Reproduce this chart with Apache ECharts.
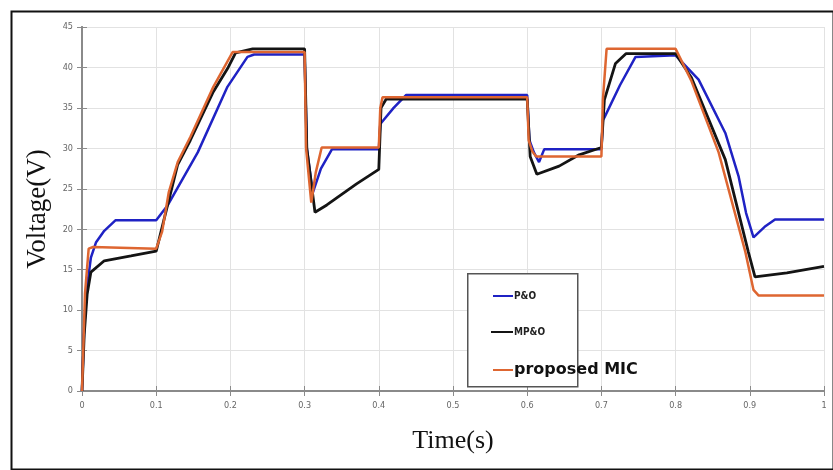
<!DOCTYPE html>
<html>
<head>
<meta charset="utf-8">
<script src="https://cdn.jsdelivr.net/npm/echarts@6/dist/echarts.min.js"></script>
<style>
  html, body { margin: 0; padding: 0; background: #fff; }
  #chart { width: 833px; height: 470px; }
</style>
</head>
<body>
<div id="chart"></div>
<script>
// tick labels
const xTicks = ['0', '0.1', '0.2', '0.3', '0.4', '0.5', '0.6', '0.7', '0.8', '0.9', '1'];
const yTicks = ['0', '5', '10', '15', '20', '25', '30', '35', '40', '45'];

// P&O (blue)
const poTime = [0, 0.003, 0.007, 0.012, 0.019, 0.03, 0.045, 0.1, 0.115, 0.156, 0.196, 0.223, 0.232, 0.3, 0.303, 0.311, 0.322, 0.337, 0.4, 0.402, 0.404, 0.42, 0.437, 0.6, 0.603, 0.609, 0.616, 0.623, 0.7, 0.702, 0.704, 0.725, 0.746, 0.8, 0.831, 0.867, 0.885, 0.895, 0.905, 0.92, 0.934, 1];
const poVolt = [0, 8, 13, 16.5, 18.4, 19.8, 21.1, 21.1, 22.9, 29.5, 37.6, 41.3, 41.6, 41.6, 30, 24.5, 27.5, 29.9, 29.9, 33, 32.9, 35, 36.6, 36.6, 31, 29.5, 28.3, 29.9, 29.9, 33.5, 33.8, 37.8, 41.3, 41.5, 38.5, 31.9, 26.5, 22, 19, 20.3, 21.2, 21.2];

// MP&O (black)
const mpoTime = [0, 0.003, 0.007, 0.012, 0.03, 0.066, 0.1, 0.11, 0.129, 0.146, 0.177, 0.197, 0.207, 0.23, 0.3, 0.303, 0.314, 0.33, 0.35, 0.37, 0.4, 0.403, 0.41, 0.6, 0.604, 0.613, 0.643, 0.67, 0.7, 0.704, 0.719, 0.733, 0.8, 0.821, 0.867, 0.898, 0.907, 0.95, 1];
const mpoVolt = [0, 7, 12, 14.7, 16.1, 16.7, 17.3, 21, 28, 31, 37, 40, 41.8, 42.3, 42.3, 30, 22.1, 23, 24.3, 25.6, 27.4, 35, 36.1, 36.1, 29, 26.8, 27.8, 29.2, 30.1, 36, 40.5, 41.7, 41.7, 38.8, 28.6, 17.2, 14.1, 14.6, 15.4];

// proposed MIC (orange)
const micTime = [0, 0.002, 0.004, 0.009, 0.015, 0.1, 0.108, 0.117, 0.129, 0.146, 0.177, 0.203, 0.3, 0.302, 0.309, 0.315, 0.323, 0.4, 0.402, 0.405, 0.6, 0.602, 0.607, 0.612, 0.7, 0.702, 0.707, 0.8, 0.821, 0.858, 0.894, 0.905, 0.912, 1];
const micVolt = [0, 6, 12, 17.6, 17.8, 17.6, 19.7, 24.6, 28.3, 31.4, 37.6, 41.9, 41.9, 30, 23.3, 27, 30.1, 30.1, 35, 36.3, 36.3, 31, 29.6, 29, 29, 36, 42.3, 42.3, 38.4, 29.5, 17.2, 12.5, 11.8, 11.8];

const pairs = (t, v) => t.map((x, i) => [x, v[i]]);

const myChart = echarts.init(document.getElementById('chart'));

const axisGrey = '#8a8a8a';
const tickLabel = { color: '#666', fontSize: 9, fontFamily: 'DejaVu Sans Condensed, DejaVu Sans' };

const option = {
    backgroundColor: '#fff',
    animation: false,
    grid: { left: 82, right: 9, top: 27, bottom: 79 },
    xAxis: [
        {
            type: 'value', min: 0, max: 1, interval: 0.1,
            name: 'Time(s)', nameLocation: 'middle', nameGap: 37,
            nameTextStyle: { fontFamily: 'Liberation Serif', fontSize: 26, color: '#111' },
            axisLine: { show: true, lineStyle: { color: axisGrey, width: 2 } },
            axisTick: { show: true, inside: true, length: 5, lineStyle: { color: axisGrey } },
            axisLabel: Object.assign({ margin: 10, formatter: (v) => xTicks[Math.round(v * 10)] }, tickLabel),
            splitLine: { show: true, lineStyle: { color: '#e2e2e2', width: 1 } }
        },
        {
            type: 'value', min: 0, max: 1, interval: 0.1, position: 'top',
            axisLine: { show: true, lineStyle: { color: axisGrey, width: 2 } },
            axisTick: { show: true, inside: true, length: 5, lineStyle: { color: axisGrey } },
            axisLabel: { show: false },
            splitLine: { show: false }
        }
    ],
    yAxis: [
        {
            type: 'value', min: 0, max: 45, interval: 5,
            name: 'Voltage(V)', nameLocation: 'middle', nameGap: 28,
            nameTextStyle: { fontFamily: 'Liberation Serif', fontSize: 27, color: '#111' },
            axisLine: { show: true, lineStyle: { color: axisGrey, width: 2 } },
            axisTick: { show: true, inside: true, length: 5, lineStyle: { color: axisGrey } },
            axisLabel: Object.assign({ margin: 9, formatter: (v) => yTicks[Math.round(v / 5)] }, tickLabel),
            splitLine: { show: true, lineStyle: { color: '#e2e2e2', width: 1 } }
        },
        {
            type: 'value', min: 0, max: 45, interval: 5, position: 'right',
            axisLine: { show: true, lineStyle: { color: axisGrey, width: 2 } },
            axisTick: { show: true, inside: true, length: 5, lineStyle: { color: axisGrey } },
            axisLabel: { show: false },
            splitLine: { show: false }
        }
    ],
    legend: [
        {
            data: ['P&O'], left: 488, top: 286, icon: 'rect', itemWidth: 20, itemHeight: 2,
            itemGap: 0, selectedMode: false, z: 10,
            textStyle: { fontFamily: 'DejaVu Sans Condensed', fontWeight: 'bold', fontSize: 10, color: '#222', padding: [0, 0, 0, -4] }
        },
        {
            data: ['MP&O'], left: 486, top: 322, icon: 'rect', itemWidth: 22, itemHeight: 2,
            itemGap: 0, selectedMode: false, z: 10,
            textStyle: { fontFamily: 'DejaVu Sans Condensed', fontWeight: 'bold', fontSize: 10, color: '#222', padding: [0, 0, 0, -4] }
        },
        {
            data: ['proposed MIC'], left: 488, top: 357, icon: 'rect', itemWidth: 20, itemHeight: 2,
            itemGap: 0, selectedMode: false, z: 10,
            textStyle: { fontFamily: 'DejaVu Sans', fontWeight: 'bold', fontSize: 16, color: '#111', padding: [0, 0, 0, -4] }
        }
    ],
    graphic: [
        {
            type: 'rect', left: 9, top: 9, z: -10, silent: true,
            shape: { width: 822, height: 458 },
            style: { fill: 'none', stroke: '#111', lineWidth: 2 }
        },
        {
            type: 'rect', left: 467, top: 273, z: 1, silent: true,
            shape: { width: 110, height: 113 },
            style: { fill: '#fff', stroke: '#555', lineWidth: 1.5 }
        }
    ],
    series: [
        {
            name: 'P&O', type: 'line', showSymbol: false, z: 3,
            lineStyle: { color: '#1f22c4', width: 2.5 }, itemStyle: { color: '#1f22c4' },
            data: pairs(poTime, poVolt)
        },
        {
            name: 'MP&O', type: 'line', showSymbol: false, z: 3,
            lineStyle: { color: '#141414', width: 2.8 }, itemStyle: { color: '#141414' },
            data: pairs(mpoTime, mpoVolt)
        },
        {
            name: 'proposed MIC', type: 'line', showSymbol: false, z: 4,
            lineStyle: { color: '#de6631', width: 2.5 }, itemStyle: { color: '#de6631' },
            data: pairs(micTime, micVolt)
        }
    ]
};

myChart.setOption(option);
</script>
</body>
</html>
